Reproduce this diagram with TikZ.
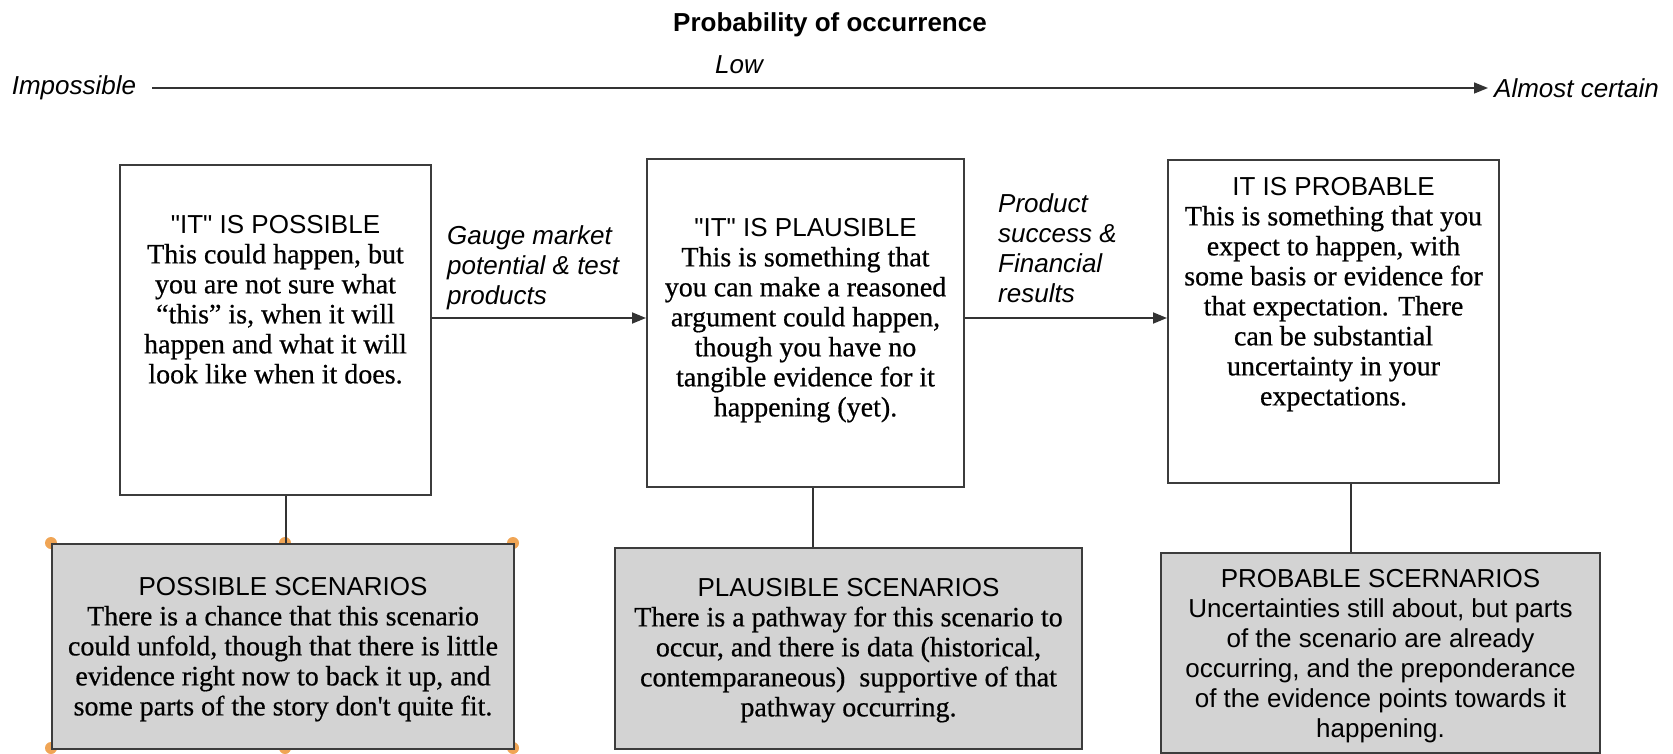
\documentclass[tikz,border=0pt]{standalone}
\usepackage{fontspec}
\newfontfamily\seriffam{Liberation Serif}[FakeBold=0.6]
\newfontfamily\sansfam{Liberation Sans}
\usetikzlibrary{arrows.meta}

\definecolor{edge}{RGB}{60,60,60}
\definecolor{scenfill}{RGB}{211,211,211}
\definecolor{handle}{RGB}{240,165,85}

\newcommand{\headfont}{\sansfam\fontsize{26}{30}\selectfont}
\newcommand{\bodyfont}{\seriffam\fontsize{28}{30}\selectfont}

\begin{document}
\begin{tikzpicture}[x=1pt,y=-1pt,
	stage/.style={draw=edge,line width=2pt,fill=white,anchor=north west,inner sep=0pt},
	scen/.style={stage,fill=scenfill},
	boxtext/.style={anchor=north,align=center,inner sep=0pt,font=\bodyfont},
	note/.style={anchor=north west,align=left,inner sep=0pt,font=\sansfam\itshape\fontsize{26}{30}\selectfont},
	flow/.style={line width=1.8pt,draw=black!80,-{Triangle[length=14pt,width=11pt]}},
	link/.style={line width=1.8pt,draw=black!80}]
	\useasboundingbox (0,0) rectangle (1673,754);
	
	\node[font=\sansfam\bfseries\fontsize{26}{30}\selectfont] (title) at (830,25) {Probability of occurrence};
	\node[font=\sansfam\itshape\fontsize{26}{30}\selectfont] (low) at (739,65) {Low};
	\node[inner sep=0pt,font=\sansfam\itshape\fontsize{26}{30}\selectfont] (imp) at (74,88) {Impossible};
	\node[inner sep=0pt,anchor=west,font=\sansfam\itshape\fontsize{26}{30}\selectfont] (cert) at (1494,88) {Almost certain};
	\draw[flow,line width=1.5pt,shorten <=16pt,shorten >=6pt] (imp) -- (cert);
	
	\node[stage,minimum width=311pt,minimum height=330pt] (poss) at (119,164) {};
	\node[stage,minimum width=317pt,minimum height=328pt] (plaus) at (646,158) {};
	\node[stage,minimum width=331pt,minimum height=323pt] (prob) at (1167,159) {};
	
	\foreach \hx in {51,285,513}
		\foreach \hy in {543,748}
			\fill[handle] (\hx,\hy) circle (6pt);
	
	\node[scen,minimum width=462pt,minimum height=205pt] (possscen) at (51,543) {};
	\node[scen,minimum width=467pt,minimum height=201pt] (plausscen) at (614,547) {};
	\node[scen,minimum width=439pt,minimum height=200pt] (probscen) at (1160,552) {};
	
	\node[boxtext] (posstext) at ([yshift=-51pt]poss.north) {{\headfont "IT" IS POSSIBLE}\\This could happen, but\\you are not sure what\\“this” is, when it will\\happen and what it will\\look like when it does.};
	\node[boxtext] (plaustext) at ([yshift=-60pt]plaus.north) {{\headfont "IT" IS PLAUSIBLE}\\This is something that\\you can make a reasoned\\argument could happen,\\though you have no\\tangible evidence for it\\happening (yet).};
	\node[boxtext] (probtext) at ([yshift=-18pt]prob.north) {{\headfont IT IS PROBABLE}\\This is something that you\\expect to happen, with\\some basis or evidence for\\that expectation. There\\can be substantial\\uncertainty in your\\expectations.};
	
	\node[boxtext] (posssctext) at ([yshift=-34pt]possscen.north) {{\headfont POSSIBLE SCENARIOS}\\There is a chance that this scenario\\could unfold, though that there is little\\evidence right now to back it up, and\\some parts of the story don't quite fit.};
	\node[boxtext] (plaussctext) at ([yshift=-31pt]plausscen.north) {{\headfont PLAUSIBLE SCENARIOS}\\There is a pathway for this scenario to\\occur, and there is data (historical,\\contemparaneous)\ \ supportive of that\\pathway occurring.};
	\node[boxtext,font=\headfont] (probsctext) at ([yshift=-17pt]probscen.north) {PROBABLE SCERNARIOS\\Uncertainties still about, but parts\\of the scenario are already\\occurring, and the preponderance\\of the evidence points towards it\\happening.};
	
	\node[note] (gauge) at (447,225) {Gauge market\\potential \& test\\products};
	\node[note] (success) at (998,193) {Product\\success \&\\Financial\\results};
	
	\draw[flow] ([yshift=12pt]poss.east) -- ([yshift=12pt]poss.east -| plaus.west);
	\draw[flow] ([yshift=5pt]plaus.east) -- ([yshift=5pt]plaus.east -| prob.west);
	
	\draw[link] ([xshift=10.5pt]poss.south) -- ([xshift=10.5pt]poss.south |- possscen.north);
	\draw[link] ([xshift=7.5pt]plaus.south) -- ([xshift=7.5pt]plaus.south |- plausscen.north);
	\draw[link] ([xshift=17.5pt]prob.south) -- ([xshift=17.5pt]prob.south |- probscen.north);
\end{tikzpicture}
\end{document}
